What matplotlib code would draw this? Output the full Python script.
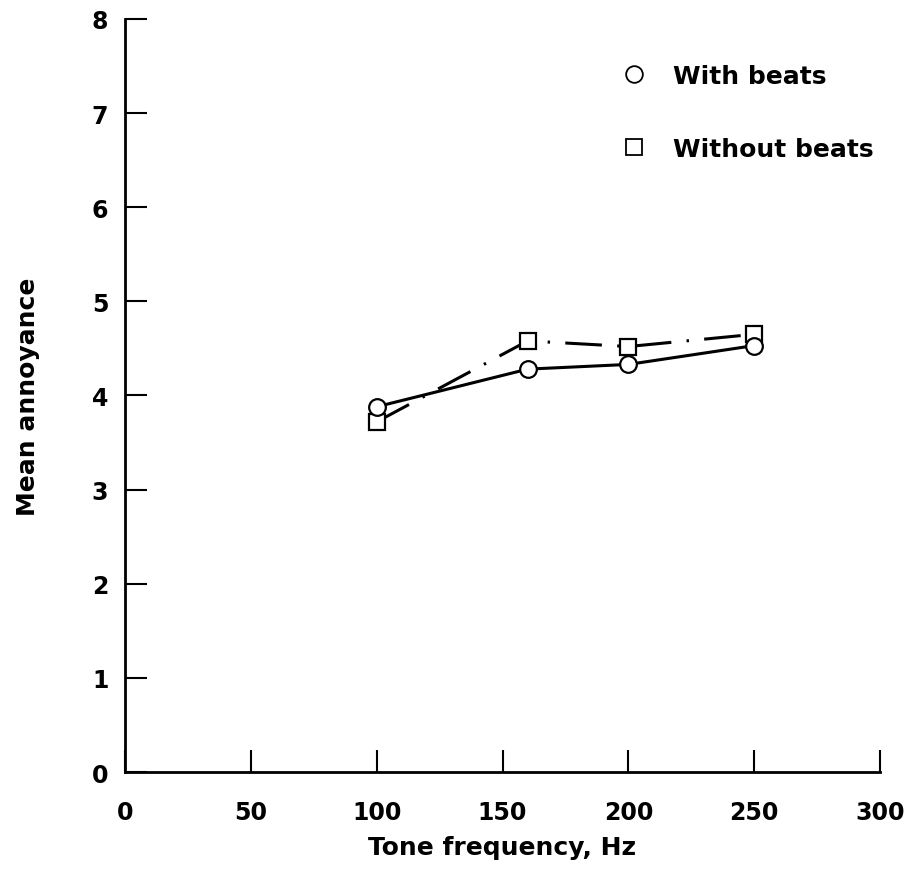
import matplotlib
matplotlib.use("Agg")
import matplotlib.pyplot as plt
from matplotlib.lines import Line2D

plt.rcParams['font.family'] = ['DejaVu Sans']
plt.rcParams['font.weight'] = 'bold'

# tone frequency (Hz) and mean annoyance
freq_with = [100, 160, 200, 250]
annoy_with = [3.88, 4.28, 4.33, 4.53]

freq_without = [100, 160, 200, 250]
annoy_without = [3.72, 4.58, 4.52, 4.65]

x_ticks = [0, 50, 100, 150, 200, 250, 300]
y_ticks = [0, 1, 2, 3, 4, 5, 6, 7, 8]

fig = plt.figure(figsize=(9.14, 8.95), dpi=100)
ax = fig.add_axes([0.1368, 0.1363, 0.826, 0.8414])

ax.plot(freq_with, annoy_with, color='black', lw=2.2, marker='o',
        markersize=12, markerfacecolor='white', markeredgewidth=1.6,
        markeredgecolor='black', zorder=3)
ax.plot(freq_without, annoy_without, color='black', lw=2.2,
        linestyle=(0, (12, 5, 0.8, 5)), marker='s', markersize=11,
        markerfacecolor='white', markeredgewidth=1.6,
        markeredgecolor='black', zorder=2)

ax.set_xlim(0, 300)
ax.set_ylim(0, 8)
ax.set_xticks(x_ticks)
ax.set_yticks(y_ticks)
ax.spines['top'].set_visible(False)
ax.spines['right'].set_visible(False)
for s in ['left', 'bottom']:
    ax.spines[s].set_linewidth(2)
ax.tick_params(direction='in', length=16, width=1.5, labelsize=17)
ax.tick_params(axis='x', pad=20)
ax.tick_params(axis='y', pad=12)

ax.set_xlabel("Tone frequency, Hz", fontsize=18, fontweight='bold', labelpad=8)
ax.set_ylabel("Mean annoyance", fontsize=18, fontweight='bold', labelpad=37)

handles = [
    Line2D([], [], linestyle='none', marker='o', markersize=12,
           markerfacecolor='white', markeredgecolor='black', markeredgewidth=1.3),
    Line2D([], [], linestyle='none', marker='s', markersize=11.5,
           markerfacecolor='white', markeredgecolor='black', markeredgewidth=1.3),
]
ax.legend(handles, ["With beats", "Without beats"], loc='upper left',
          bbox_to_anchor=(0.628, 0.97), frameon=False, fontsize=18,
          handlelength=1.0, handletextpad=1.04, labelspacing=1.95)

fig.savefig("out.png", dpi=100)
